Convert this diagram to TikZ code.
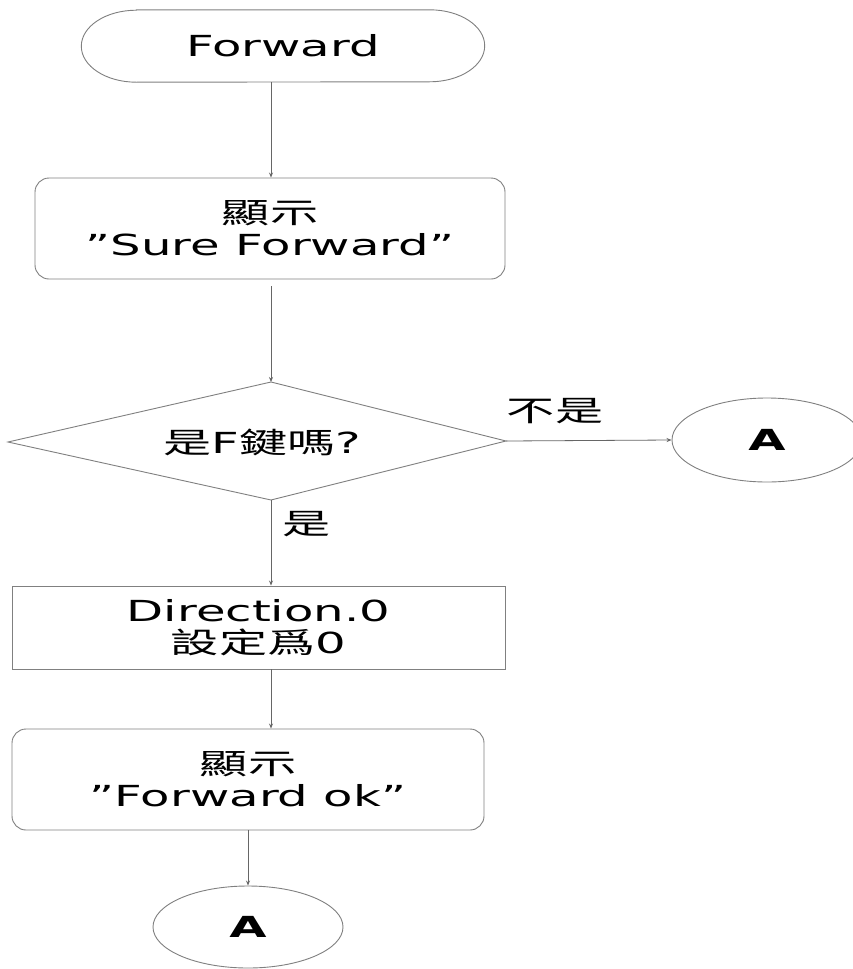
\documentclass[tikz,border=0pt]{standalone}
\usepackage{fontspec}
\setmainfont{DejaVu Sans}
\newfontfamily\cjk{Noto Sans CJK TC}
\usetikzlibrary{arrows.meta,calc,shapes.geometric}
% horizontally widened lettering
\newcommand\wide[1]{\scalebox{1.66}[1]{#1}}
\tikzset{
  base/.style={font=\fontsize{29}{32}\selectfont, text=black, align=center, inner sep=0pt},
  outline/.style={draw=black!50, line width=0.9pt},
  arr/.style={draw=black!60, line width=0.8pt, -{Stealth[length=5pt,width=4pt]}},
  procbox/.style={base, outline, fill=white, rounded corners=14pt},
  plainbox/.style={base, outline, fill=white},
  connector/.style={base, outline, fill=white, ellipse, minimum width=190pt, minimum height=84pt},
}
\begin{document}
\begin{tikzpicture}[x=1pt,y=-1pt]
  \clip (0,0) rectangle (853,969);
  \fill[white] (0,0) rectangle (853,969);

  % start terminal
  \node[base, minimum width=403pt, minimum height=72pt] (start) at (283,46) {\wide{Forward}};
  \draw[outline] ($(start.north west)+(55pt,0)$) -- ($(start.north east)+(-55pt,0)$)
    arc[start angle=90, end angle=-90, x radius=55pt, y radius=36pt]
    -- ($(start.south west)+(55pt,0)$)
    arc[start angle=270, end angle=90, x radius=55pt, y radius=36pt] -- cycle;

  % display box
  \node[procbox, minimum width=470pt, minimum height=101pt] (sure) at (270,228.5)
    {\wide{\cjk 顯示}\\\wide{”Sure Forward”}};

  % decision
  \coordinate (dl) at (8,442);
  \coordinate (dt) at (271,382);
  \coordinate (dr) at (506,441);
  \coordinate (db) at (271,500);
  \draw[outline, fill=white] (dl) -- (dt) -- (dr) -- (db) -- cycle;
  \node[base] (q) at (262,442) {\wide{{\cjk 是}F{\cjk 鍵嗎}?}};

  % off-page connectors
  \node[connector] (aright) at (767,440) {\wide{\bfseries A}};
  \node[connector, minimum height=82pt] (abottom) at (248,927) {\wide{\bfseries A}};

  % assignment box
  \node[plainbox, minimum width=493pt, minimum height=83pt] (dir) at (258.5,627.5)
    {\wide{Direction.0}\\\wide{{\cjk 設定爲}0}};

  % confirmation box
  \node[procbox, minimum width=472pt, minimum height=101pt] (ok) at (248,779.5)
    {\wide{\cjk 顯示}\\\wide{”Forward ok”}};

  % branch labels
  \node[base] (no) at (555,411) {\wide{\cjk 不是}};
  \node[base] (yes) at (307,524) {\wide{\cjk 是}};

  % connectors
  \draw[arr] (start.south -| dt) -- (sure.north -| dt);
  \draw[arr, shorten <=7pt] (sure.south -| dt) -- (dt);
  \draw[arr] (dr) -- (aright.west);
  \draw[arr] (db) -- (dir.north -| db);
  \draw[arr] (dir.south -| db) -- (ok.north -| db);
  \draw[arr] (ok.south) -- (abottom.north);
\end{tikzpicture}
\end{document}
